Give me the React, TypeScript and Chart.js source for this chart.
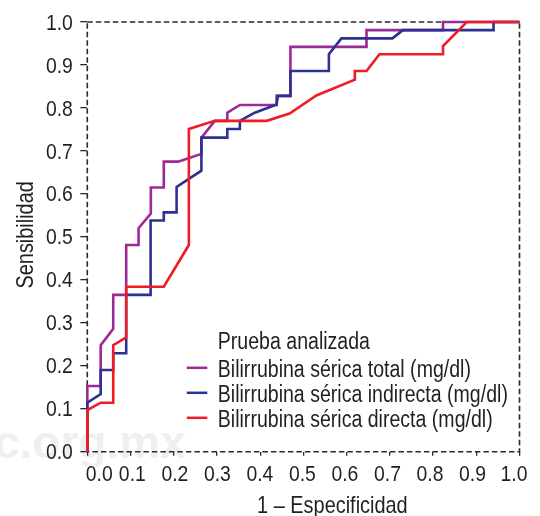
import React, { useEffect, useRef } from 'react';
import { Chart, registerables } from 'chart.js';

Chart.register(...registerables);

const axisTicks = [0, 0.1, 0.2, 0.3, 0.4, 0.5, 0.6, 0.7, 0.8, 0.9, 1.0];

const seriesLabels = [
  'Bilirrubina sérica total (mg/dl)',
  'Bilirrubina sérica indirecta (mg/dl)',
  'Bilirrubina sérica directa (mg/dl)',
];
const seriesColors = ['#9b2a96', '#2e3192', '#ee1c25'];

const totalFpr = [0, 0, 0.031, 0.031, 0.06, 0.06, 0.09, 0.09, 0.1186, 0.1186, 0.147, 0.147, 0.177, 0.177, 0.21, 0.264, 0.264, 0.295, 0.324, 0.324, 0.353, 0.438, 0.438, 0.47, 0.47, 0.646, 0.646, 0.823, 0.823, 1.0];
const totalSens = [0, 0.153, 0.153, 0.248, 0.286, 0.365, 0.365, 0.481, 0.481, 0.52, 0.554, 0.615, 0.615, 0.675, 0.675, 0.693, 0.731, 0.77, 0.77, 0.789, 0.807, 0.807, 0.828, 0.828, 0.942, 0.942, 0.981, 0.981, 1.0, 1.0];

const indirectFpr = [0, 0, 0.031, 0.031, 0.06, 0.06, 0.09, 0.09, 0.1465, 0.1465, 0.177, 0.177, 0.2066, 0.2066, 0.264, 0.264, 0.324, 0.324, 0.353, 0.353, 0.3876, 0.438, 0.441, 0.47, 0.47, 0.559, 0.559, 0.588, 0.706, 0.73, 0.94, 0.94, 1.0];
const indirectSens = [0, 0.114, 0.134, 0.19, 0.19, 0.229, 0.229, 0.365, 0.365, 0.538, 0.538, 0.557, 0.557, 0.616, 0.654, 0.731, 0.731, 0.751, 0.751, 0.77, 0.789, 0.808, 0.828, 0.828, 0.886, 0.886, 0.925, 0.962, 0.962, 0.981, 0.981, 1.0, 1.0];

const directFpr = [0, 0, 0.031, 0.06, 0.06, 0.09, 0.09, 0.177, 0.235, 0.235, 0.295, 0.415, 0.468, 0.53, 0.619, 0.619, 0.646, 0.676, 0.823, 0.823, 0.878, 1.0];
const directSens = [0, 0.097, 0.114, 0.114, 0.248, 0.266, 0.384, 0.384, 0.481, 0.751, 0.77, 0.77, 0.787, 0.829, 0.866, 0.886, 0.886, 0.925, 0.925, 0.944, 1.0, 1.0];

const legendTitle = 'Prueba analizada';
const xTitle = '1 – Especificidad';
const yTitle = 'Sensibilidad';
const watermark = 'c.org.mx';

const FONT = '"Liberation Sans", Arial, Helvetica, sans-serif';
const TEXT = '#231f20';
const NARROW = 0.85;
const TICK_NARROW = 0.9;

const toPoints = (xs: number[], ys: number[]) => xs.map((x, i) => ({ x, y: ys[i] }));

function narrowText(
  ctx: CanvasRenderingContext2D,
  text: string,
  x: number,
  y: number,
  size: number,
  align: CanvasTextAlign,
  sx: number,
  rotate = false,
) {
  ctx.save();
  ctx.translate(x, y);
  if (rotate) ctx.rotate(-Math.PI / 2);
  ctx.scale(sx, 1);
  ctx.font = `${size}px ${FONT}`;
  ctx.textAlign = align;
  ctx.textBaseline = 'alphabetic';
  ctx.fillStyle = TEXT;
  ctx.fillText(text, 0, 0);
  ctx.restore();
}

const fmt = (v: number) => v.toFixed(1);

const watermarkPlugin = {
  id: 'watermark',
  beforeDraw(chart: any) {
    const { ctx } = chart;
    ctx.save();
    ctx.fillStyle = '#efefef';
    ctx.font = `bold 46px ${FONT}`;
    ctx.textBaseline = 'alphabetic';
    ctx.fillText(watermark, -6, 458);
    ctx.restore();
  },
};

const framePlugin = {
  id: 'frame',
  beforeDatasetsDraw(chart: any) {
    const { ctx, chartArea: a } = chart;
    ctx.save();
    ctx.strokeStyle = '#2a2a2a';
    ctx.lineWidth = 1.6;
    ctx.setLineDash([5.5, 3]);
    ctx.strokeRect(a.left, a.top, a.right - a.left, a.bottom - a.top);
    ctx.restore();
  },
};

const textPlugin = {
  id: 'axisText',
  afterDraw(chart: any) {
    const { ctx, chartArea: a, scales } = chart;
    const xs = scales.x;
    const ys = scales.y;
    // y tick labels
    axisTicks.forEach((v) => {
      const py = ys.getPixelForValue(v);
      narrowText(ctx, fmt(v), a.left - 14.5, py + 7.6, 21.5, 'right', TICK_NARROW);
    });
    // x tick labels
    const xBase = a.bottom + 29.5;
    axisTicks.forEach((v, i) => {
      const px = xs.getPixelForValue(v);
      let dx = 2.5 - 7 * v;
      if (i === 0) dx = 12;
      if (i === axisTicks.length - 1) dx = -5.5;
      narrowText(ctx, fmt(v), px + dx, xBase, 21.5, 'center', TICK_NARROW);
    });
    // axis titles
    narrowText(ctx, xTitle, (a.left + a.right) / 2 + 29, a.bottom + 61.5, 24, 'center', 0.83);
    narrowText(ctx, yTitle, 33, (a.top + a.bottom) / 2 - 2, 24, 'center', 0.83, true);
    // legend
    const lineX0 = a.left + 99.5;
    const lineX1 = a.left + 120;
    const textX = a.left + 130.5;
    const titleBase = a.bottom - 102.4;
    narrowText(ctx, legendTitle, textX, titleBase, 23, 'left', NARROW);
    chart.data.datasets.forEach((ds: any, i: number) => {
      const base = titleBase + 28 + i * 25;
      ctx.save();
      ctx.strokeStyle = ds.borderColor;
      ctx.lineWidth = 2.5;
      ctx.beginPath();
      ctx.moveTo(lineX0, base - 9.5);
      ctx.lineTo(lineX1, base - 9.5);
      ctx.stroke();
      ctx.restore();
      narrowText(ctx, ds.label, textX, base, 23, 'left', NARROW);
    });
  },
};

export default function App() {
  const canvasRef = useRef<HTMLCanvasElement | null>(null);

  useEffect(() => {
    if (!canvasRef.current) return;
    const seriesData = [
      toPoints(totalFpr, totalSens),
      toPoints(indirectFpr, indirectSens),
      toPoints(directFpr, directSens),
    ];
    const chart = new Chart(canvasRef.current, {
      type: 'scatter',
      data: {
        datasets: seriesData.map((d, i) => ({
          label: seriesLabels[i],
          data: d,
          showLine: true,
          borderColor: seriesColors[i],
          backgroundColor: seriesColors[i],
          borderWidth: 2.6,
          pointRadius: 0,
          pointHoverRadius: 0,
          tension: 0,
          fill: false,
          clip: false as any,
          order: 3 - i,
        })),
      },
      options: {
        animation: false,
        responsive: true,
        maintainAspectRatio: false,
        events: [],
        layout: { padding: { top: 22, right: 20.5, left: 0, bottom: 0 } },
        plugins: {
          legend: { display: false },
          tooltip: { enabled: false },
        },
        scales: {
          x: {
            type: 'linear',
            min: 0,
            max: 1,
            afterBuildTicks: (scale: any) => {
              scale.ticks = axisTicks.map((v) => ({ value: v }));
            },
            afterFit: (scale: any) => {
              scale.height = 64.3;
            },
            ticks: { display: false, autoSkip: false },
            grid: {
              drawOnChartArea: false,
              drawTicks: true,
              tickLength: 4,
              color: '#2a2a2a',
              lineWidth: 1.3,
            },
            border: { display: false },
            title: { display: false },
          },
          y: {
            type: 'linear',
            min: 0,
            max: 1,
            afterBuildTicks: (scale: any) => {
              scale.ticks = axisTicks.map((v) => ({ value: v }));
            },
            afterFit: (scale: any) => {
              scale.width = 87.3;
            },
            ticks: { display: false, autoSkip: false },
            grid: {
              drawOnChartArea: false,
              drawTicks: true,
              tickLength: 7,
              color: '#2a2a2a',
              lineWidth: 1.3,
            },
            border: { display: false },
            title: { display: false },
          },
        },
      },
      plugins: [watermarkPlugin, framePlugin, textPlugin],
    });
    return () => chart.destroy();
  }, []);

  return (
    <div style={{ position: 'fixed', left: 0, top: 0, width: 540, height: 516, background: '#fff' }}>
      <canvas ref={canvasRef} />
    </div>
  );
}
